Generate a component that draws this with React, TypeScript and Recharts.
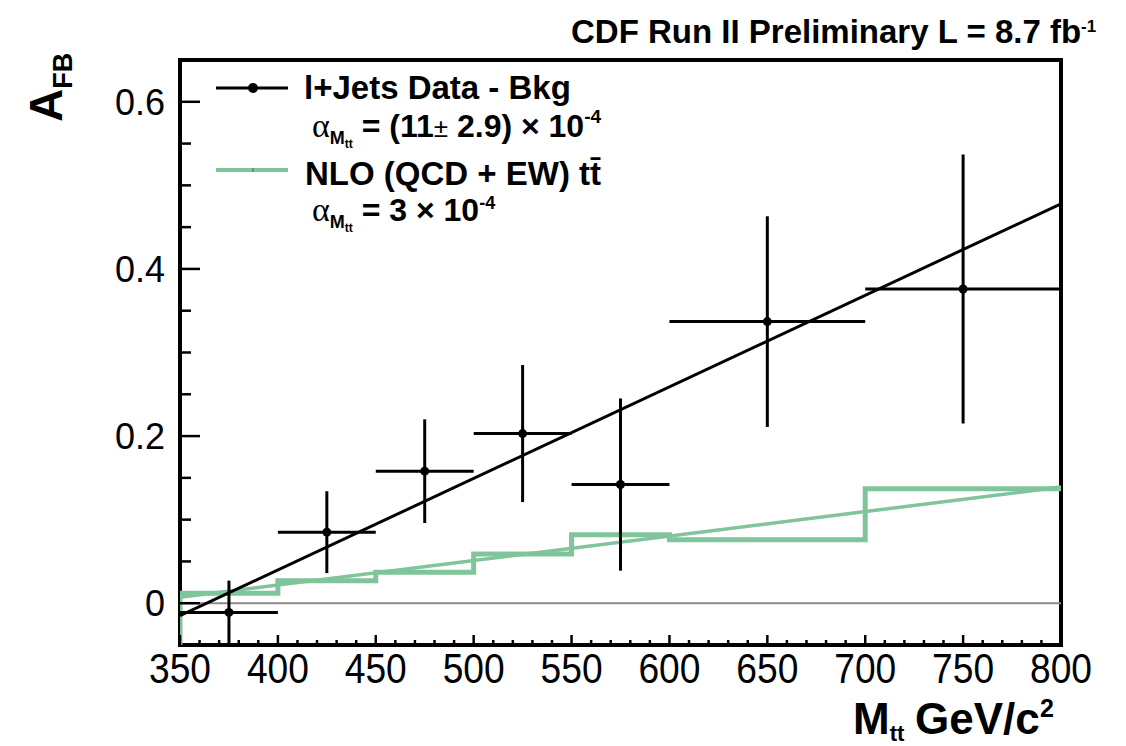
import React from 'react';
import {
  ComposedChart,
  Line,
  Scatter,
  ErrorBar,
  XAxis,
  YAxis,
  ReferenceLine,
  ReferenceArea,
} from 'recharts';

// A_FB vs M_tt: l+jets data (bkg subtracted), its linear fit, and the NLO histogram + fit
const binCenters = [375, 425, 475, 525, 575, 650, 750];
const binHalfWidths = [25, 25, 25, 25, 25, 50, 50];
const afbValues = [-0.011, 0.085, 0.158, 0.203, 0.142, 0.337, 0.376];
const afbErrors = [0.038, 0.049, 0.062, 0.082, 0.103, 0.126, 0.161];

const dataFitX = [350, 800];
const dataFitY = [-0.015, 0.478];

const nloEdges = [350, 400, 450, 500, 550, 600, 700, 800];
const nloValues = [0.012, 0.027, 0.037, 0.059, 0.082, 0.076, 0.137];

const nloFitX = [350, 800];
const nloFitY = [0.007, 0.139];

const xDomain = [350, 800];
const yDomain = [-0.05, 0.65];
const xMajorTicks = [350, 400, 450, 500, 550, 600, 650, 700, 750, 800];
const yMajorTicks = [0, 0.2, 0.4, 0.6];
const yTickLabels = ['0', '0.2', '0.4', '0.6'];

const FONT = "'Liberation Sans', Arial, Helvetica, sans-serif";
const SERIF = "'Liberation Serif', 'DejaVu Serif', serif";
const GREEN = '#80c49b';

// minor ticks every 10 GeV and every 0.05
const xTicks: number[] = [];
for (let v = 350; v <= 800; v += 10) xTicks.push(v);
const yTicks: number[] = [];
for (let i = 0; i <= 13; i++) yTicks.push(Math.round(i * 5) / 100);

const afbPoints = binCenters.map((x, i) => ({
  x,
  y: afbValues[i],
  ex: binHalfWidths[i],
  ey: afbErrors[i],
}));
const dataFit = dataFitX.map((x, i) => ({ x, y: dataFitY[i] }));
const nloFit = nloFitX.map((x, i) => ({ x, y: nloFitY[i] }));
const nloHist = [
  { x: nloEdges[0], y: yDomain[0] },
  ...nloEdges.map((x, i) => ({ x, y: nloValues[Math.min(i, nloValues.length - 1)] })),
];

function XTick(props: any) {
  const { x, y, payload } = props;
  const major = xMajorTicks.includes(payload.value);
  return (
    <g>
      <line x1={x} x2={x} y1={y} y2={y - (major ? 10 : 5)} stroke="#000" strokeWidth={2.5} />
      {major && (
        <text
          x={x}
          y={y + 38}
          textAnchor="middle"
          fontSize={42}
          textLength={62}
          lengthAdjust="spacingAndGlyphs"
          fontFamily={FONT}
          fill="#000"
        >
          {payload.value}
        </text>
      )}
    </g>
  );
}

function YTick(props: any) {
  const { x, y, payload } = props;
  const idx = yMajorTicks.findIndex((m) => Math.abs(m - payload.value) < 1e-9);
  const major = idx >= 0;
  return (
    <g>
      <line x1={x} x2={x + (major ? 20 : 11)} y1={y} y2={y} stroke="#000" strokeWidth={2.5} />
      {major && (
        <text x={x - 15} y={y} dy="0.36em" textAnchor="end" fontSize={36} fontFamily={FONT} fill="#000">
          {yTickLabels[idx]}
        </text>
      )}
    </g>
  );
}

const renderDot = (p: any) => <circle cx={p.cx} cy={p.cy} r={4.5} fill="#000" />;

export default function App() {
  return (
    <div style={{ position: 'absolute', left: 0, top: 0, width: 1126, height: 746, background: '#fff' }}>
      <ComposedChart width={1126} height={746} margin={{ top: 60, right: 65, bottom: 100, left: 179 }}>
        <XAxis
          type="number"
          dataKey="x"
          domain={xDomain}
          allowDataOverflow
          ticks={xTicks}
          interval={0}
          tick={(p: any) => <XTick {...p} />}
          tickLine={false}
          axisLine={false}
          tickSize={0}
          tickMargin={0}
          height={1}
        />
        <YAxis
          type="number"
          dataKey="y"
          domain={yDomain}
          allowDataOverflow
          ticks={yTicks}
          interval={0}
          tick={(p: any) => <YTick {...p} />}
          tickLine={false}
          axisLine={false}
          tickSize={0}
          tickMargin={0}
          width={1}
        />
        <ReferenceLine y={0} stroke="#8a8a8a" strokeWidth={2} />
        <Line
          data={nloHist}
          dataKey="y"
          type="stepAfter"
          stroke={GREEN}
          strokeWidth={5}
          dot={false}
          activeDot={false}
          isAnimationActive={false}
        />
        <Line
          data={nloFit}
          dataKey="y"
          type="linear"
          stroke={GREEN}
          strokeWidth={3.5}
          dot={false}
          activeDot={false}
          isAnimationActive={false}
        />
        <Line
          data={dataFit}
          dataKey="y"
          type="linear"
          stroke="#000"
          strokeWidth={3}
          dot={false}
          activeDot={false}
          isAnimationActive={false}
        />
        <Scatter data={afbPoints} fill="#000" shape={renderDot} isAnimationActive={false}>
          <ErrorBar dataKey="ex" direction="x" width={0} stroke="#000" strokeWidth={3} />
          <ErrorBar dataKey="ey" direction="y" width={0} stroke="#000" strokeWidth={3} />
        </Scatter>
        <ReferenceArea
          x1={xDomain[0]}
          x2={xDomain[1]}
          y1={yDomain[0]}
          y2={yDomain[1]}
          fill="none"
          stroke="#000"
          strokeWidth={4}
        />
      </ComposedChart>

      <svg
        width={1126}
        height={746}
        style={{ position: 'absolute', left: 0, top: 0, pointerEvents: 'none' }}
        fontFamily={FONT}
      >
        <text x={571} y={43} fontSize={33} fontWeight="bold">
          CDF Run II Preliminary L = 8.7 fb
          <tspan fontSize={17} dy={-11}>-1</tspan>
        </text>

        <text transform="translate(62,122) rotate(-90)" fontWeight="bold" fontSize={46}>
          A<tspan fontSize={27} dy={10}>FB</tspan>
        </text>

        <text x={853} y={734} fontWeight="bold" fontSize={44}>
          M<tspan fontSize={22} dy={7}>tt</tspan>
          <tspan x={915} y={734}>GeV/c</tspan>
          <tspan x={1040} y={717} fontSize={25}>2</tspan>
        </text>

        {/* legend */}
        <line x1={216} x2={288} y1={88} y2={88} stroke="#000" strokeWidth={3} />
        <circle cx={253} cy={88} r={5} fill="#000" />
        <text x={304} y={99} fontSize={33} fontWeight="bold">l+Jets Data - Bkg</text>

        <text x={312} y={137} fontSize={32} fontWeight="bold">
          <tspan fontFamily={SERIF} fontWeight="normal" fontSize={34}>α</tspan>
          <tspan fontSize={18} dy={7}>M</tspan>
          <tspan fontSize={12} dy={4}>tt</tspan>
          <tspan dy={-11}>{' = (11'}</tspan>
          <tspan fontWeight="normal" fontSize={26}>±</tspan>
          <tspan>{' 2.9) × 10'}</tspan>
          <tspan fontSize={19} dy={-14}>-4</tspan>
        </text>

        <line x1={216} x2={288} y1={170} y2={170} stroke={GREEN} strokeWidth={4} />
        <line x1={253} x2={253} y1={168} y2={172} stroke="#4f8f68" strokeWidth={1.5} />
        <text x={305} y={185} fontSize={33} fontWeight="bold">NLO (QCD + EW) tt̄</text>

        <text x={312} y={221} fontSize={32} fontWeight="bold">
          <tspan fontFamily={SERIF} fontWeight="normal" fontSize={34}>α</tspan>
          <tspan fontSize={18} dy={7}>M</tspan>
          <tspan fontSize={12} dy={4}>tt</tspan>
          <tspan dy={-11}>{' = 3 × 10'}</tspan>
          <tspan fontSize={18} dy={-12}>-4</tspan>
        </text>
      </svg>
    </div>
  );
}
